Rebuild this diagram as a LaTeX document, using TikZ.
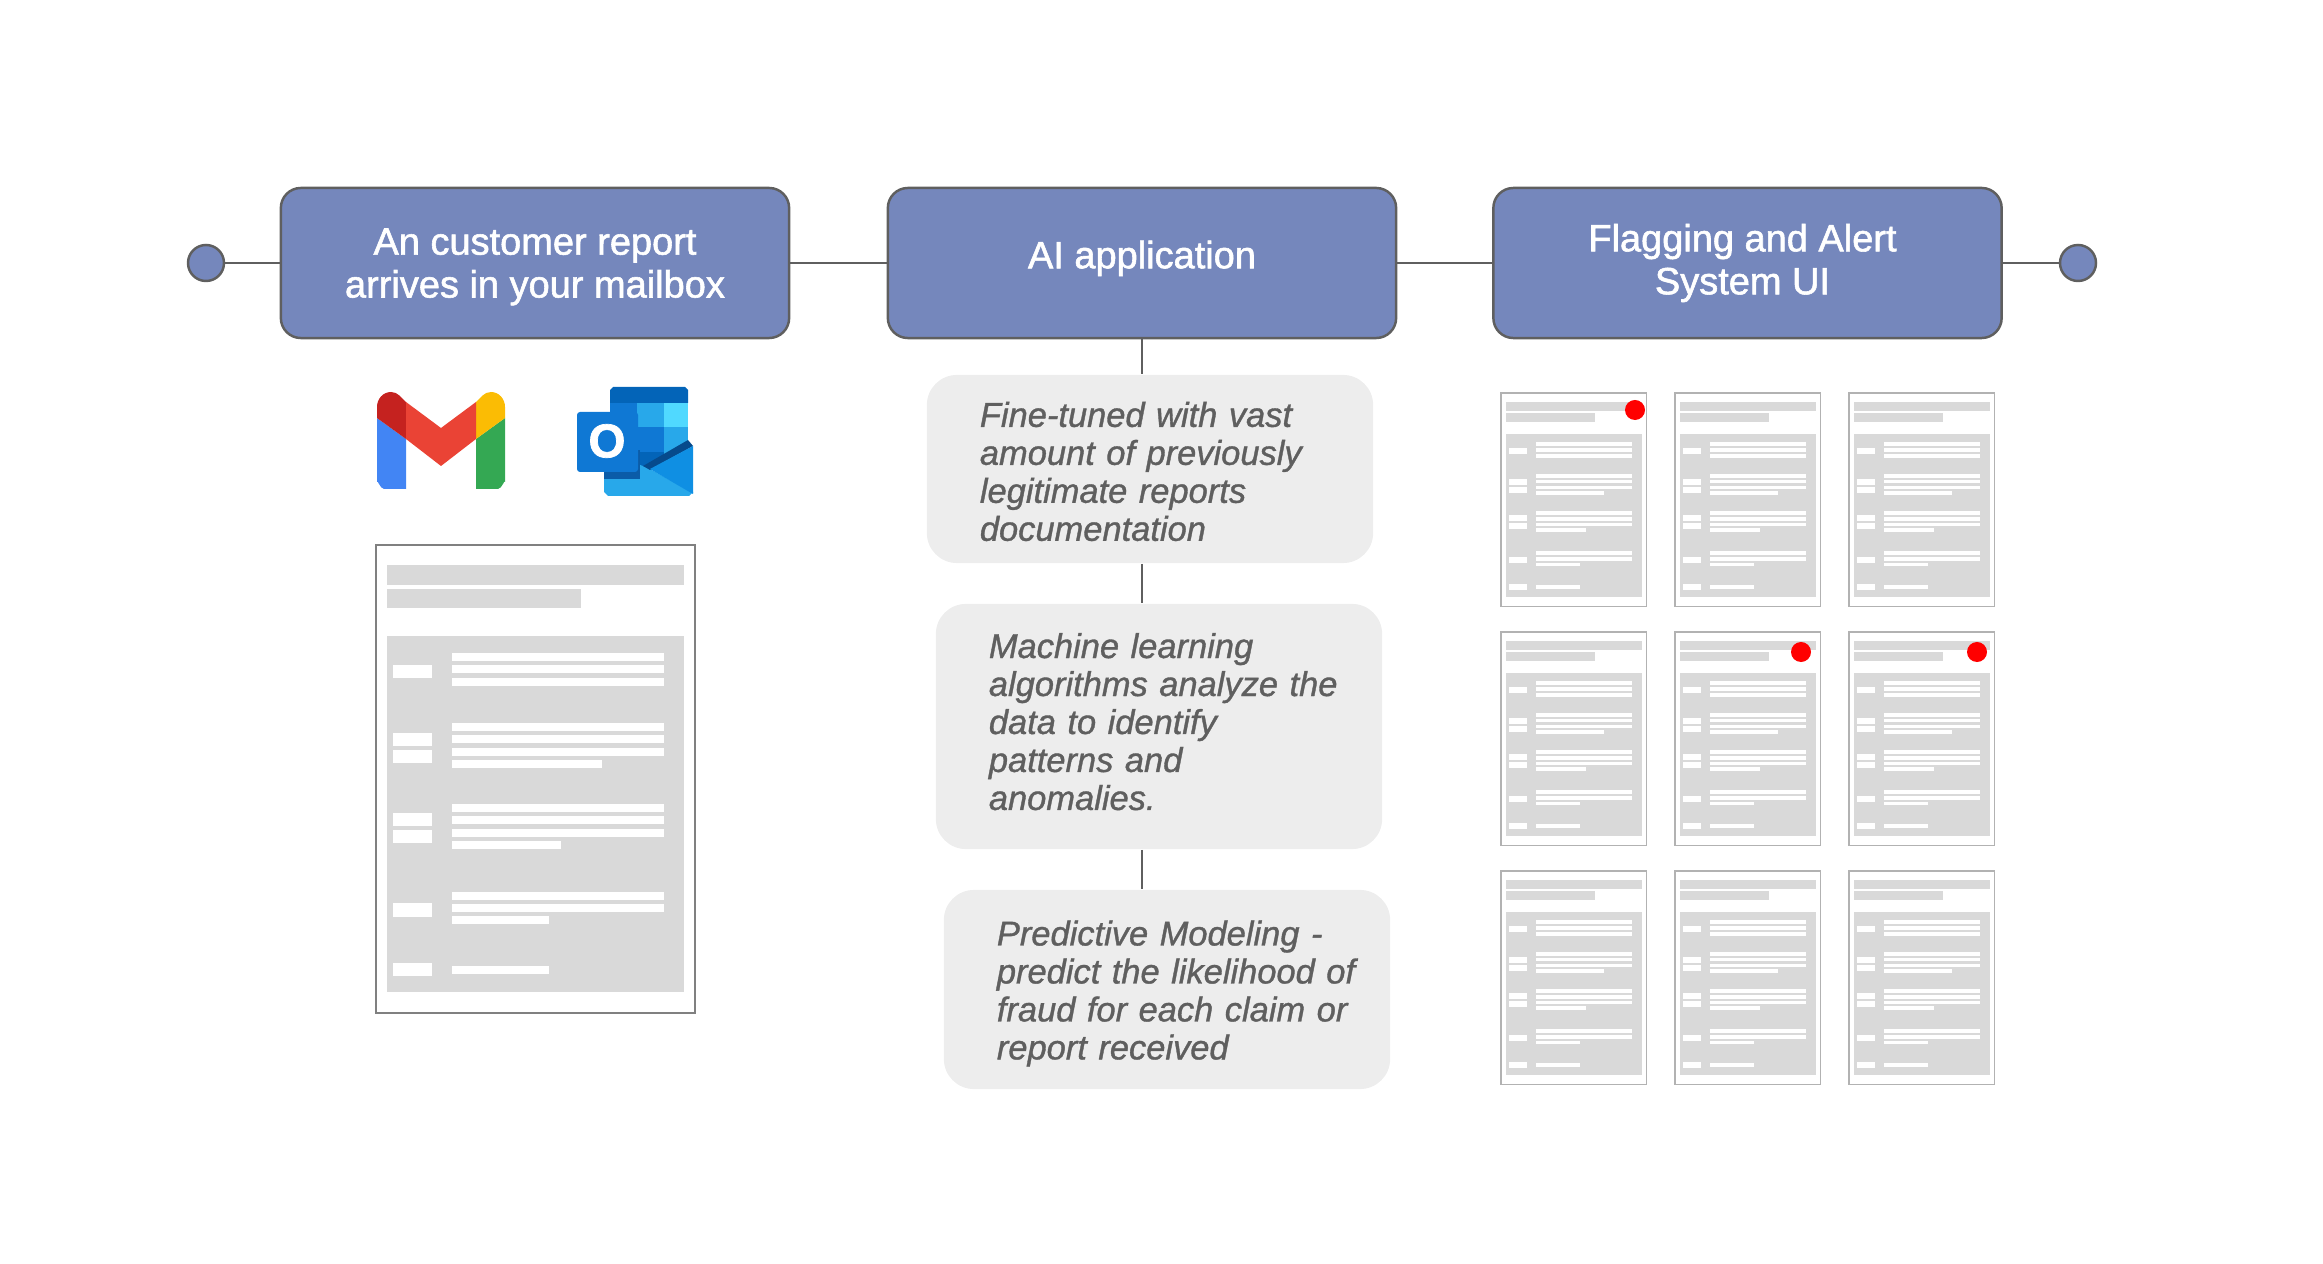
\documentclass[tikz,border=0pt]{standalone}
\usepackage{fontspec}
\setmainfont{Liberation Sans}
\newfontfamily\headfont[FakeBold=1.5]{Liberation Sans}
\newfontfamily\notefont[FakeBold=1]{Liberation Sans}
\definecolor{boxblue}{HTML}{7587BC}
\definecolor{edgegray}{HTML}{5F5F5F}
\definecolor{notegray}{HTML}{EDEDED}
\definecolor{paperline}{HTML}{D9D9D9}
\definecolor{gmblue}{HTML}{4285F4}
\definecolor{gmgreen}{HTML}{34A853}
\definecolor{gmdark}{HTML}{C5221F}
\definecolor{gmyellow}{HTML}{FBBC04}
\definecolor{gmred}{HTML}{EA4335}
\definecolor{olnavy}{HTML}{0364B8}
\definecolor{olmid}{HTML}{0F78D4}
\definecolor{olsky}{HTML}{28A8EA}
\definecolor{ollight}{HTML}{50D9FF}
\definecolor{olflap}{HTML}{0F8FE3}
\definecolor{olshade}{HTML}{0B5CA8}
\definecolor{oldeep}{HTML}{064A8C}
\tikzset{
  mainbox/.style={draw=edgegray, line width=0.7pt, fill=boxblue, rounded corners=0.2cm,
    minimum width=5.08cm, minimum height=1.5cm, align=center, text=white,
    font=\headfont\fontsize{10.8pt}{12.2pt}\selectfont},
  endpoint/.style={circle, draw=edgegray, line width=0.7pt, fill=boxblue, minimum size=0.36cm, inner sep=0pt},
  notebox/.style={fill=notegray, rounded corners=0.3cm, minimum width=4.46cm, text width=3.4cm, align=left,
    text=edgegray, font=\notefont\itshape\fontsize{9.8pt}{10.8pt}\selectfont},
  link/.style={draw=edgegray, line width=0.7pt},
  reddot/.style={circle, fill=red, minimum size=0.2cm, inner sep=0pt}
}
% one report sheet, drawn at the size of the big one
\newcommand{\reportsheet}[1]{
  \draw[draw=#1, fill=white] (0,0) rectangle (319,468);
  \fill[paperline] (11.3,20.3) rectangle (307.7,39.7);
  \fill[paperline] (11.3,44) rectangle (205,63);
  \fill[paperline] (11.3,90.7) rectangle (307.7,446.7);
  \foreach \top in {120,187.7,205,267.7,285,358.3,418}
    \fill[white] (17,\top) rectangle (56,\top+13.3);
  \foreach \top/\len in {108.3/287.7,120.3/287.7,133.3/287.7,178/287.7,190/287.7,203/287.7,215/225.7,
      258.7/287.7,271/287.7,283.7/287.7,296/185,346.7/287.7,358.7/287.7,371.3/172.7,420.7/172.7}
    \fill[white] (76.3,\top) rectangle (\len,\top+8);
}
\begin{document}
\begin{tikzpicture}[x=0.01cm, y=-0.01cm]
  \useasboundingbox (0,0) rectangle (2323,1264);

  % Cajas
  \node[endpoint] (start) at (206,263) {};
  \node[mainbox] (report) at (535,263) {\rule{0pt}{0.34cm}An customer report\\arrives in your mailbox};
  \node[mainbox, text depth=0.17cm] (app) at (1142,263) {AI application};
  \node[mainbox] (flag) at (1747.5,263) {Flagging and Alert\hspace*{0.1cm}\\System UI\hspace*{0.1cm}};
  \node[endpoint] (finish) at (2078,263) {};

  % Notas
  \node[notebox, minimum height=1.88cm] (fine) at (1150,469)
    {\rule{0pt}{0.3cm}Fine-tuned with vast\\amount of previously\\legitimate reports\\documentation};
  \node[notebox, minimum height=2.45cm] (machine) at (1159,726.5)
    {Machine learning\\\mbox{algorithms analyze the}\\data to identify\\patterns and\\anomalies.\rule[-0.1cm]{0pt}{0.1cm}};
  \node[notebox, minimum height=1.99cm] (predict) at (1167,989.5)
    {\rule{0pt}{0.33cm}Predictive Modeling -\\\mbox{predict the likelihood of}\\\mbox{fraud for each claim or}\\report received};

  % Lineas
  \draw[link] (start) -- (report);
  \draw[link] (report) -- (app);
  \draw[link] (app) -- (flag);
  \draw[link] (flag) -- (finish);
  \draw[link] (app.south) -- (app.south |- fine.north);
  \draw[link] (app.south |- fine.south) -- (app.south |- machine.north);
  \draw[link] (app.south |- machine.south) -- (app.south |- predict.north);

  % Gmail
  \fill[gmblue] (377,418) -- (406,439) -- (406,489) -- (384,489) to[out=180,in=90] (377,482) -- cycle;
  \fill[gmgreen] (505,418) -- (476,439) -- (476,489) -- (498,489) to[out=0,in=90] (505,482) -- cycle;
  \fill[gmdark] (377,418) -- (377,407) to[out=90,in=180] (391,392) to[out=0,in=140] (406,402) -- (406,439) -- cycle;
  \fill[gmyellow] (505,418) -- (505,407) to[out=90,in=0] (491,392) to[out=180,in=40] (476,402) -- (476,439) -- cycle;
  \fill[gmred] (406,402) -- (441,428) -- (476,402) -- (476,439) -- (441,466) -- (406,439) -- cycle;

  % Outlook
  \fill[olnavy] (610,403) -- (610,390) -- (613,387) -- (685,387) -- (688,390) -- (688,403) -- cycle;
  \fill[olmid] (610,403) rectangle (637,427);
  \fill[olsky] (637,403) rectangle (664,427);
  \fill[ollight] (664,403) rectangle (688,427);
  \fill[olnavy] (610,427) rectangle (637,452);
  \fill[olmid] (637,427) rectangle (664,452);
  \fill[olsky] (664,427) rectangle (688,452);
  \fill[oldeep] (610,452) rectangle (637,470);
  \fill[olnavy] (637,452) rectangle (664,470);
  \fill[olsky] (664,452) -- (688,452) -- (688,442) -- (650,468) -- (664,470) -- cycle;
  \fill[olsky] (604,450) -- (650,469) -- (693,493) -- (693,492) -- (689,496) -- (608,496) -- (604,492) -- cycle;
  \fill[oldeep] (688,440) -- (693,446) -- (650,470) -- (643,466) -- cycle;
  \fill[olflap] (693,446) -- (650,469) -- (693,494) -- cycle;
  \fill[olshade] (604,450) rectangle (640,479);
  \fill[olmid, rounded corners=0.03cm] (577,412) rectangle (638,472);
  \node[text=white, font=\headfont\bfseries\fontsize{13.5pt}{14pt}\selectfont, inner sep=0pt] (olook) at (607,441) {O};

  % Hojas
  \begin{scope}[shift={(376,545)}, line width=0.4pt]
    \reportsheet{gray}
  \end{scope}
  \foreach \col/\colx in {0/1501,1/1675,2/1849}
    \foreach \row/\rowy in {0/393,1/632,2/871}
      \begin{scope}[shift={(\colx,\rowy)}, scale=0.457, line width=0.35pt]
        \reportsheet{gray!60}
      \end{scope};

  % Avisos
  \node[reddot] (alerta) at (1635,410) {};
  \node[reddot] (alertb) at (1801,652) {};
  \node[reddot] (alertc) at (1977,652) {};
\end{tikzpicture}
\end{document}
